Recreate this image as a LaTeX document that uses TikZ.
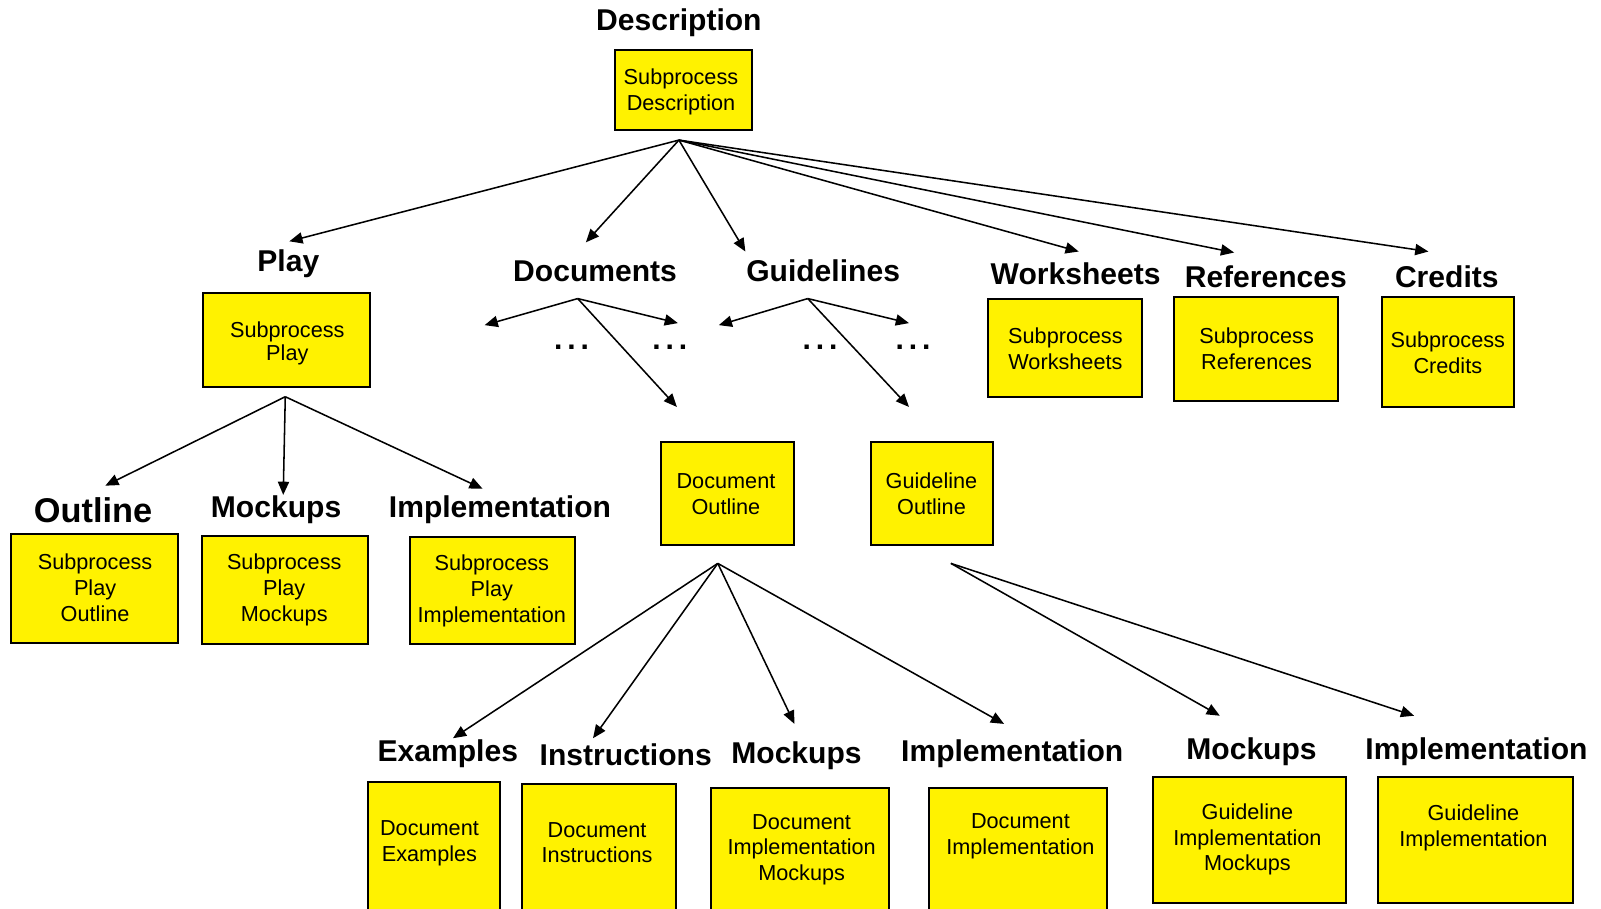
\documentclass[tikz,border=0pt]{standalone}
\usepackage{fontspec}
\setmainfont{Liberation Sans}
\usetikzlibrary{arrows.meta}
\begin{document}
\begin{tikzpicture}[x=0.51125pt,y=-0.51125pt,
  nodes={scale=1.0225},
  box/.style={draw=black,line width=1pt,fill=yellow,inner sep=0pt,rectangle},
  txt/.style={align=center,inner sep=0pt,font=\fontsize{10.6}{12.6}\selectfont},
  lbl/.style={inner sep=0pt,font=\fontsize{14.7}{16}\selectfont\bfseries},
  dots/.style={inner sep=0pt,font=\fontsize{14.7}{16}\selectfont\bfseries},
  arr/.style={line width=0.77pt,-{Triangle[length=6.6pt,width=5.6pt]}}]
\useasboundingbox (0,0) rectangle (1565.8,889);
\clip (0,0) rectangle (1565.8,889);
\fill[white] (0,0) rectangle (1565.8,889);

% ---- labels
\node[lbl] (lDesc) at (664,22) {Description};
\node[lbl] (lPlay) at (282,258) {Play};
\node[lbl] (lDocs) at (582,265) {Documents};
\node[lbl] (lGuid) at (805,265) {Guidelines};
\node[lbl] (lWork) at (1052,268) {Worksheets};
\node[lbl] (lRef) at (1238,271) {References};
\node[lbl] (lCred) at (1415,271) {Credits};
\node[lbl,font=\fontsize{16.8}{18}\selectfont\bfseries] (lOut) at (91,499) {Outline};
\node[lbl] (lPMock) at (270,499) {Mockups};
\node[lbl] (lPImp) at (489,499) {Implementation};
\node[lbl] (lEx) at (438,737) {Examples};
\node[lbl] (lIns) at (612,738) {Instructions};
\node[lbl] (lDMock) at (779,739) {Mockups};
\node[lbl] (lDImp) at (990,737) {Implementation};
\node[lbl] (lGMock) at (1224,735) {Mockups};
\node[lbl] (lGImp) at (1444,735) {Implementation};

% ---- boxes
\node[box,minimum width=67pt,minimum height=39pt] (bDesc) at (668,88) {};
\node[txt] (tDesc) at (666,90) {Subprocess\\Description};
\node[box,minimum width=81.5pt,minimum height=45.5pt] (bPlay) at (280.5,332.5) {};
\node[txt,font=\fontsize{10.6}{11}\selectfont] (tPlay) at (281,336) {Subprocess\\Play};
\node[box,minimum width=81.5pt,minimum height=53.5pt] (bOut) at (92.5,575.5) {};
\node[txt] (tOut) at (93,575) {Subprocess\\Play\\Outline};
\node[box,minimum width=81pt,minimum height=53pt] (bPMock) at (279,577) {};
\node[txt] (tPMock) at (278,577) {Subprocess\\Play\\Mockups};
\node[box,minimum width=80.5pt,minimum height=52.5pt] (bPImp) at (481.5,577.5) {};
\node[txt] (tPImp) at (481,578) {Subprocess\\Play\\Implementation};
\node[box,minimum width=65.5pt,minimum height=50.5pt] (bDocOut) at (711.5,482.5) {};
\node[txt] (tDocOut) at (710,483) {Document\\Outline};
\node[box,minimum width=59.5pt,minimum height=50.5pt] (bGuiOut) at (911.5,482.5) {};
\node[txt] (tGuiOut) at (911,483) {Guideline\\Outline};
\node[box,minimum width=75.5pt,minimum height=48pt] (bWork) at (1041.5,340) {};
\node[txt] (tWork) at (1042,341) {Subprocess\\Worksheets};
\node[box,minimum width=80.5pt,minimum height=51pt] (bRef) at (1228.5,341) {};
\node[txt] (tRef) at (1229,341) {Subprocess\\References};
\node[box,minimum width=64.5pt,minimum height=54pt] (bCred) at (1416.5,344) {};
\node[txt] (tCred) at (1416,345) {Subprocess\\Credits};
\node[box,minimum width=64.5pt,minimum height=82.5pt] (bEx) at (424.5,847.5) {};
\node[txt] (tEx) at (420,825) {Document\\Examples};
\node[box,minimum width=75pt,minimum height=81.5pt] (bIns) at (586,848.5) {};
\node[txt] (tIns) at (584,824) {Document\\Instructions};
\node[box,minimum width=87pt,minimum height=79.5pt] (bDIM) at (782,850.5) {};
\node[txt] (tDIM) at (784,831) {Document\\Implementation\\Mockups};
\node[box,minimum width=87pt,minimum height=79.5pt] (bDI) at (996,850.5) {};
\node[txt] (tDI) at (998,818) {Document\\Implementation};
\node[box,minimum width=94pt,minimum height=61.5pt] (bGIM) at (1222,821.5) {};
\node[txt] (tGIM) at (1220,821) {Guideline\\Implementation\\Mockups};
\node[box,minimum width=95pt,minimum height=61.5pt] (bGI) at (1443,821.5) {};
\node[txt] (tGI) at (1441,810) {Guideline\\Implementation};

% ---- dots
\node[dots] (d1) at (559,340) {.\hspace{2.4pt}.\hspace{2.4pt}.};
\node[dots] (d2) at (655,340) {.\hspace{2.4pt}.\hspace{2.4pt}.};
\node[dots] (d3) at (802,340) {.\hspace{2.4pt}.\hspace{2.4pt}.};
\node[dots] (d4) at (893,340) {.\hspace{2.4pt}.\hspace{2.4pt}.};

% ---- arrow origins and free ends
\coordinate (sDesc) at (664,137);
\coordinate (sDocs) at (565,292);
\coordinate (sGuid) at (790,292);
\coordinate (sPlay) at (279,388);
\coordinate (sDocOut) at (702,551);
\coordinate (sGuiOut) at (930,551);
\coordinate (eDocL) at (474,318);
\coordinate (eDocR) at (663,316);
\coordinate (eDocD) at (662,398);
\coordinate (eGuiL) at (703,318);
\coordinate (eGuiR) at (889,316);
\coordinate (eGuiD) at (889,398);

% ---- arrows
\draw[arr] (sDesc) -- (283,236);
\draw[arr] (sDesc) -- (573,237);
\draw[arr] (sDesc) -- (729,246);
\draw[arr] (sDesc) -- (1055,246);
\draw[arr] (sDesc) -- (1207,247);
\draw[arr] (sDesc) -- (1397,246);
\draw[arr] (sDocs) -- (eDocL);
\draw[arr] (sDocs) -- (eDocR);
\draw[arr] (sDocs) -- (eDocD);
\draw[arr] (sGuid) -- (eGuiL);
\draw[arr] (sGuid) -- (eGuiR);
\draw[arr] (sGuid) -- (eGuiD);
\draw[arr] (sPlay) -- (103,475);
\draw[arr] (sPlay) -- (277,484);
\draw[arr] (sPlay) -- (472,478);
\draw[arr] (sDocOut) -- (443,722);
\draw[arr] (sDocOut) -- (580,722);
\draw[arr] (sDocOut) -- (777,708);
\draw[arr] (sDocOut) -- (982,708);
\draw[arr] (sGuiOut) -- (1193,700);
\draw[arr] (sGuiOut) -- (1383,700);
\end{tikzpicture}
\end{document}
